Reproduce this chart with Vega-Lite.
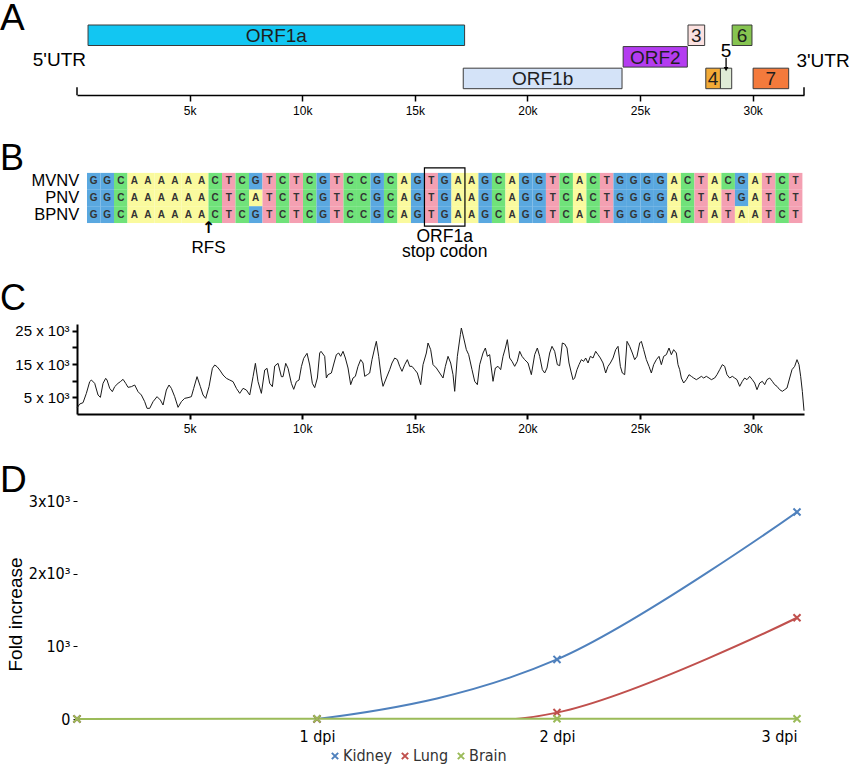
{
  "$schema": "https://vega.github.io/schema/vega-lite/v6.json",
  "background": "white",
  "padding": 0,
  "bounds": "flush",
  "spacing": 0,
  "config": {
    "view": {"stroke": null},
    "font": "Liberation Sans",
    "axis": {"domainColor": "black", "tickColor": "black", "labelColor": "black", "titleColor": "black", "grid": false}
  },
  "resolve": {"scale": {"color": "independent"}, "legend": {"color": "independent"}},
  "vconcat": [
    {
      "width": 727,
      "height": 70,
      "title": {"text": "A", "anchor": "start", "frame": "group", "fontSize": 37, "fontWeight": "normal", "color": "black", "offset": 0, "dx": -77, "dy": 42.8, "baseline": "alphabetic"},
      "layer": [
        {
          "data": {"values": [
            {"name": "ORF1a", "start": 490, "end": 17210, "track": 1},
            {"name": "ORF1b", "start": 17150, "end": 24200, "track": 3},
            {"name": "ORF2", "start": 24250, "end": 27100, "track": 2},
            {"name": "3", "start": 27130, "end": 27870, "track": 1},
            {"name": "4", "start": 27920, "end": 28570, "track": 3},
            {"name": "5", "start": 28570, "end": 29070, "track": 3},
            {"name": "6", "start": 29090, "end": 29970, "track": 1},
            {"name": "7", "start": 30020, "end": 31600, "track": 3}
          ]},
          "mark": {"type": "rect", "stroke": "#3a3a3a", "strokeWidth": 1},
          "encoding": {
            "x": {"field": "start", "type": "quantitative", "scale": {"domain": [0, 32280], "nice": false, "zero": false},
              "axis": {"values": [5000, 10000, 15000, 20000, 25000, 30000], "labelExpr": "(datum.value/1000)+'k'", "tickSize": 6, "tickWidth": 1.5, "domainWidth": 1.5, "labelFontSize": 12, "labelPadding": 4, "title": null}},
            "x2": {"field": "end"},
            "y": {"field": "track", "type": "ordinal", "scale": {"domain": [1, 2, 3], "paddingInner": 0.05, "paddingOuter": 0.146, "align": 0}, "axis": null},
            "color": {"field": "name", "type": "nominal", "legend": null,
              "scale": {"domain": ["ORF1a", "ORF1b", "ORF2", "3", "4", "5", "6", "7"],
                        "range": ["#12c6f2", "#d4e3f8", "#b43cf0", "#fbe1e0", "#f2aa36", "#dfebd6", "#86c450", "#f47a3c"]}}
          }
        },
        {
          "data": {"values": [
            {"label": "ORF1a", "pos": 8850, "track": 1},
            {"label": "ORF1b", "pos": 20675, "track": 3},
            {"label": "ORF2", "pos": 25675, "track": 2},
            {"label": "3", "pos": 27500, "track": 1},
            {"label": "4", "pos": 28245, "track": 3},
            {"label": "6", "pos": 29530, "track": 1},
            {"label": "7", "pos": 30810, "track": 3}
          ]},
          "mark": {"type": "text", "fontSize": 19, "color": "#1e1e1e", "baseline": "middle", "dy": 1},
          "encoding": {
            "x": {"field": "pos", "type": "quantitative"},
            "y": {"field": "track", "type": "ordinal"},
            "text": {"field": "label"}
          }
        },
        {
          "data": {"values": [{"label": "5'UTR", "pos": 0, "track": 2}]},
          "mark": {"type": "text", "fontSize": 19, "color": "black", "align": "right", "baseline": "middle", "dx": 9, "dy": 3},
          "encoding": {"x": {"field": "pos", "type": "quantitative"}, "y": {"field": "track", "type": "ordinal"}, "text": {"field": "label"}}
        },
        {
          "data": {"values": [{"label": "3'UTR", "pos": 32280, "track": 2}]},
          "mark": {"type": "text", "fontSize": 19, "color": "black", "align": "left", "baseline": "middle", "dx": -7.6, "dy": 4},
          "encoding": {"x": {"field": "pos", "type": "quantitative"}, "y": {"field": "track", "type": "ordinal"}, "text": {"field": "label"}}
        },
        {
          "data": {"values": [{"label": "5", "pos": 28820, "track": 2}]},
          "mark": {"type": "text", "fontSize": 19, "color": "black", "baseline": "middle", "dy": -6},
          "encoding": {"x": {"field": "pos", "type": "quantitative"}, "y": {"field": "track", "type": "ordinal"}, "text": {"field": "label"}}
        },
        {
          "data": {"values": [{"pos": 28820, "track": 2}]},
          "mark": {"type": "rule", "color": "black", "strokeWidth": 1.3, "y2Offset": 1.5},
          "encoding": {
            "x": {"field": "pos", "type": "quantitative"},
            "y": {"field": "track", "type": "ordinal", "bandPosition": 0.55},
            "y2": {"field": "track", "bandPosition": 1}
          }
        },
        {
          "data": {"values": [{"pos": 28820, "track": 2}]},
          "mark": {"type": "point", "shape": "triangle-down", "filled": true, "color": "black", "size": 22, "opacity": 1, "yOffset": 2},
          "encoding": {
            "x": {"field": "pos", "type": "quantitative"},
            "y": {"field": "track", "type": "ordinal", "bandPosition": 1}
          }
        },
        {
          "data": {"values": [{"pos": 0, "track": 3}, {"pos": 32280, "track": 3}]},
          "mark": {"type": "rule", "color": "black", "strokeWidth": 1.5, "yOffset": -1.5, "y2Offset": 6.6},
          "encoding": {
            "x": {"field": "pos", "type": "quantitative"},
            "y": {"field": "track", "type": "ordinal", "bandPosition": 1},
            "y2": {"field": "track", "bandPosition": 1}
          }
        }
      ]
    },
    {
      "width": 727,
      "height": 229,
      "title": {"text": "B", "anchor": "start", "frame": "group", "fontSize": 36, "fontWeight": "normal", "color": "black", "offset": 0, "dx": -77, "dy": 110.5, "baseline": "alphabetic"},
      "layer": [
        {
          "data": {"values": [
            {"seq": "MVNV", "row": 1, "col": [1,2,3,4,5,6,7,8,9,10,11,12,13,14,15,16,17,18,19,20,21,22,23,24,25,26,27,28,29,30,31,32,33,34,35,36,37,38,39,40,41,42,43,44,45,46,47,48,49,50,51,52,53],
             "base": ["G","G","C","A","A","A","A","A","A","C","T","C","G","T","C","T","C","G","T","C","C","G","C","A","G","T","G","A","A","G","C","A","G","G","T","C","A","C","T","G","G","G","G","A","C","T","A","C","G","A","T","C","T"]},
            {"seq": "PNV", "row": 2, "col": [1,2,3,4,5,6,7,8,9,10,11,12,13,14,15,16,17,18,19,20,21,22,23,24,25,26,27,28,29,30,31,32,33,34,35,36,37,38,39,40,41,42,43,44,45,46,47,48,49,50,51,52,53],
             "base": ["G","G","C","A","A","A","A","A","A","C","T","C","A","T","C","T","C","G","T","C","C","G","C","A","G","T","G","A","A","G","C","A","G","G","T","C","A","C","T","G","G","G","G","A","C","T","A","T","G","A","T","C","T"]},
            {"seq": "BPNV", "row": 3, "col": [1,2,3,4,5,6,7,8,9,10,11,12,13,14,15,16,17,18,19,20,21,22,23,24,25,26,27,28,29,30,31,32,33,34,35,36,37,38,39,40,41,42,43,44,45,46,47,48,49,50,51,52,53],
             "base": ["G","G","C","A","A","A","A","A","A","C","T","C","G","T","C","T","C","G","T","C","C","G","C","A","G","T","G","A","A","G","C","A","G","G","T","C","A","C","T","G","G","G","G","A","C","T","A","T","A","A","T","C","T"]}
          ]},
          "transform": [{"flatten": ["col", "base"]}],
          "layer": [
            {
              "mark": {"type": "rect", "height": 16.8},
              "encoding": {
                "x": {"field": "col", "type": "ordinal", "scale": {"paddingInner": 0, "paddingOuter": 0.4297, "align": 0.862}, "axis": null},
                "y": {"field": "row", "type": "quantitative", "scale": {"domain": [-4.178, 9.562], "reverse": true, "nice": false, "zero": false}, "axis": null},
                "color": {"field": "base", "type": "nominal", "legend": null,
                  "scale": {"domain": ["A", "C", "G", "T"], "range": ["#fafa9e", "#70e27a", "#5aa8e0", "#f4a0b2"]}}
              }
            },
            {
              "mark": {"type": "text", "fontSize": 10, "fontWeight": "bold", "color": "#333333", "baseline": "middle"},
              "encoding": {
                "x": {"field": "col", "type": "ordinal"},
                "y": {"field": "row", "type": "quantitative"},
                "text": {"field": "base"}
              }
            }
          ]
        },
        {
          "data": {"values": [{"seq": "MVNV", "row": 1}, {"seq": "PNV", "row": 2}, {"seq": "BPNV", "row": 3}]},
          "mark": {"type": "text", "fontSize": 16.5, "color": "black", "align": "right", "baseline": "middle", "dx": -14.5},
          "encoding": {
            "x": {"datum": 1, "type": "ordinal"},
            "y": {"field": "row", "type": "quantitative"},
            "text": {"field": "seq"}
          }
        },
        {
          "data": {"values": [{"row": 2}]},
          "mark": {"type": "rect", "fill": null, "fillOpacity": 0, "stroke": "black", "strokeWidth": 1.2, "width": {"band": 3}, "height": 58.3, "yOffset": -1},
          "encoding": {
            "x": {"datum": 27, "type": "ordinal"},
            "y": {"field": "row", "type": "quantitative"}
          }
        },
        {
          "data": {"values": [{"label": "↑", "col": 10, "row": 3}]},
          "mark": {"type": "text", "font": "DejaVu Sans", "fontWeight": "bold", "fontSize": 16, "color": "black", "baseline": "middle", "dx": -6.75, "dy": 13.5},
          "encoding": {"x": {"field": "col", "type": "ordinal"}, "y": {"field": "row", "type": "quantitative"}, "text": {"field": "label"}}
        },
        {
          "data": {"values": [{"label": "RFS", "col": 10, "row": 3}]},
          "mark": {"type": "text", "fontSize": 17, "color": "black", "baseline": "middle", "dx": -6.75, "dy": 33},
          "encoding": {"x": {"field": "col", "type": "ordinal"}, "y": {"field": "row", "type": "quantitative"}, "text": {"field": "label"}}
        },
        {
          "data": {"values": [{"label": "ORF1a", "col": 27, "row": 3}]},
          "mark": {"type": "text", "fontSize": 17.5, "color": "black", "baseline": "middle", "dy": 22.5},
          "encoding": {"x": {"field": "col", "type": "ordinal"}, "y": {"field": "row", "type": "quantitative"}, "text": {"field": "label"}}
        },
        {
          "data": {"values": [{"label": "stop codon", "col": 27, "row": 3}]},
          "mark": {"type": "text", "fontSize": 17.5, "color": "black", "baseline": "middle", "dy": 37.5},
          "encoding": {"x": {"field": "col", "type": "ordinal"}, "y": {"field": "row", "type": "quantitative"}, "text": {"field": "label"}}
        }
      ]
    },
    {
      "width": 727,
      "height": 90,
      "title": {"text": "C", "anchor": "start", "frame": "group", "fontSize": 36, "fontWeight": "normal", "color": "black", "offset": 0, "dx": -77, "dy": 22.5, "baseline": "alphabetic"},
      "data": {"values": [
        {"p":0,"c":1800},{"p":120,"c":3000},{"p":268,"c":3400},{"p":416,"c":6200},{"p":564,"c":9700},{"p":638,"c":10200},{"p":786,"c":9200},{"p":934,"c":5700},{"p":1038,"c":5000},{"p":1156,"c":9200},
        {"p":1274,"c":10700},{"p":1333,"c":10200},{"p":1452,"c":7700},{"p":1570,"c":6700},{"p":1674,"c":8200},{"p":1822,"c":9200},{"p":1925,"c":9700},{"p":2044,"c":10400},{"p":2162,"c":9200},{"p":2266,"c":8000},
        {"p":2414,"c":8200},{"p":2562,"c":8700},{"p":2710,"c":6700},{"p":2858,"c":5700},{"p":3006,"c":3700},{"p":3110,"c":1700},{"p":3229,"c":1700},{"p":3377,"c":3700},{"p":3554,"c":5200},{"p":3702,"c":4200},
        {"p":3820,"c":2700},{"p":3968,"c":7200},{"p":4087,"c":8700},{"p":4190,"c":7700},{"p":4338,"c":5200},{"p":4486,"c":2000},{"p":4634,"c":3700},{"p":4782,"c":4700},{"p":4930,"c":4900},{"p":5078,"c":5200},
        {"p":5182,"c":7700},{"p":5330,"c":11200},{"p":5478,"c":8200},{"p":5597,"c":5700},{"p":5715,"c":4700},{"p":5863,"c":8200},{"p":6011,"c":13700},{"p":6115,"c":14700},{"p":6218,"c":14200},{"p":6337,"c":13200},
        {"p":6485,"c":11700},{"p":6633,"c":10700},{"p":6781,"c":10200},{"p":6929,"c":9700},{"p":7077,"c":7700},{"p":7225,"c":6200},{"p":7373,"c":7700},{"p":7521,"c":7200},{"p":7669,"c":5700},{"p":7817,"c":11200},
        {"p":7921,"c":15200},{"p":8039,"c":9700},{"p":8187,"c":6200},{"p":8335,"c":13200},{"p":8439,"c":13700},{"p":8556,"c":9200},{"p":8675,"c":8200},{"p":8779,"c":14400},{"p":8927,"c":15200},{"p":9075,"c":11200},
        {"p":9149,"c":11200},{"p":9267,"c":15200},{"p":9371,"c":13700},{"p":9519,"c":9200},{"p":9622,"c":7400},{"p":9741,"c":9700},{"p":9859,"c":10200},{"p":9963,"c":14200},{"p":10066,"c":16700},{"p":10214,"c":18200},
        {"p":10333,"c":14700},{"p":10451,"c":9200},{"p":10555,"c":7900},{"p":10673,"c":10800},{"p":10776,"c":18300},{"p":10835,"c":18800},{"p":10998,"c":17300},{"p":11072,"c":10800},{"p":11146,"c":11800},{"p":11294,"c":12300},
        {"p":11412,"c":15300},{"p":11516,"c":17800},{"p":11619,"c":18300},{"p":11708,"c":17300},{"p":11812,"c":18800},{"p":11916,"c":16800},{"p":12034,"c":13800},{"p":12152,"c":8800},{"p":12256,"c":10800},{"p":12360,"c":11300},
        {"p":12478,"c":14300},{"p":12596,"c":16300},{"p":12700,"c":15300},{"p":12774,"c":11300},{"p":12892,"c":11800},{"p":12996,"c":12300},{"p":13099,"c":16300},{"p":13218,"c":19800},{"p":13292,"c":21800},{"p":13395,"c":17300},
        {"p":13514,"c":10800},{"p":13588,"c":8300},{"p":13736,"c":10800},{"p":13884,"c":13300},{"p":13987,"c":15300},{"p":14106,"c":16800},{"p":14224,"c":16300},{"p":14328,"c":14300},{"p":14431,"c":12800},{"p":14550,"c":14800},
        {"p":14668,"c":16300},{"p":14772,"c":14300},{"p":14875,"c":14300},{"p":14994,"c":13300},{"p":15112,"c":12300},{"p":15260,"c":8800},{"p":15364,"c":14800},{"p":15512,"c":18300},{"p":15586,"c":21300},{"p":15704,"c":19300},
        {"p":15808,"c":14800},{"p":15956,"c":13800},{"p":16104,"c":12300},{"p":16252,"c":10800},{"p":16356,"c":14300},{"p":16474,"c":17300},{"p":16592,"c":15300},{"p":16696,"c":11800},{"p":16770,"c":6800},{"p":16888,"c":17300},
        {"p":17022,"c":23800},{"p":17066,"c":25800},{"p":17170,"c":22800},{"p":17288,"c":19300},{"p":17391,"c":17800},{"p":17539,"c":13300},{"p":17658,"c":9800},{"p":17776,"c":8800},{"p":17880,"c":14800},{"p":18028,"c":18300},
        {"p":18132,"c":19800},{"p":18220,"c":17300},{"p":18324,"c":17800},{"p":18472,"c":9800},{"p":18576,"c":13800},{"p":18694,"c":14300},{"p":18812,"c":13300},{"p":18916,"c":17300},{"p":19020,"c":19800},{"p":19108,"c":22300},
        {"p":19212,"c":16800},{"p":19315,"c":15800},{"p":19434,"c":14300},{"p":19552,"c":15800},{"p":19656,"c":18800},{"p":19759,"c":17300},{"p":19878,"c":16300},{"p":20026,"c":15300},{"p":20174,"c":11800},{"p":20322,"c":17800},
        {"p":20440,"c":19800},{"p":20544,"c":17300},{"p":20662,"c":13300},{"p":20766,"c":12300},{"p":20869,"c":13800},{"p":20988,"c":18300},{"p":21091,"c":20300},{"p":21210,"c":18800},{"p":21328,"c":14800},{"p":21432,"c":14500},
        {"p":21550,"c":21300},{"p":21654,"c":21000},{"p":21757,"c":19800},{"p":21846,"c":15300},{"p":21950,"c":12300},{"p":22024,"c":10300},{"p":22098,"c":10800},{"p":22201,"c":13300},{"p":22290,"c":14800},{"p":22394,"c":16300},
        {"p":22497,"c":15800},{"p":22586,"c":16800},{"p":22690,"c":15300},{"p":22794,"c":17300},{"p":22912,"c":16800},{"p":23030,"c":18800},{"p":23134,"c":17800},{"p":23238,"c":16800},{"p":23356,"c":15300},{"p":23474,"c":12300},
        {"p":23578,"c":14300},{"p":23682,"c":15300},{"p":23800,"c":16800},{"p":23918,"c":19300},{"p":24022,"c":20300},{"p":24126,"c":14300},{"p":24214,"c":12300},{"p":24318,"c":11800},{"p":24421,"c":21800},{"p":24540,"c":20300},
        {"p":24658,"c":18300},{"p":24762,"c":16300},{"p":24865,"c":17300},{"p":24984,"c":21300},{"p":25058,"c":21800},{"p":25161,"c":19300},{"p":25280,"c":16300},{"p":25398,"c":14300},{"p":25502,"c":12300},{"p":25605,"c":14800},
        {"p":25724,"c":16300},{"p":25842,"c":17300},{"p":25946,"c":14800},{"p":26049,"c":17300},{"p":26168,"c":17800},{"p":26286,"c":19800},{"p":26390,"c":17800},{"p":26493,"c":19300},{"p":26612,"c":18300},{"p":26686,"c":14800},
        {"p":26760,"c":13300},{"p":26834,"c":10800},{"p":26937,"c":9300},{"p":27056,"c":10300},{"p":27174,"c":11800},{"p":27278,"c":11300},{"p":27381,"c":10800},{"p":27500,"c":10300},{"p":27618,"c":10800},{"p":27722,"c":11300},
        {"p":27825,"c":10800},{"p":27944,"c":11300},{"p":28062,"c":10800},{"p":28166,"c":10300},{"p":28314,"c":10800},{"p":28417,"c":11800},{"p":28536,"c":13300},{"p":28654,"c":14800},{"p":28758,"c":14300},{"p":28861,"c":11800},
        {"p":28980,"c":10800},{"p":29098,"c":11300},{"p":29202,"c":10800},{"p":29305,"c":10300},{"p":29424,"c":8300},{"p":29542,"c":9800},{"p":29646,"c":10800},{"p":29749,"c":10300},{"p":29868,"c":11300},{"p":29986,"c":10300},
        {"p":30090,"c":9300},{"p":30193,"c":7300},{"p":30312,"c":9300},{"p":30430,"c":9800},{"p":30534,"c":8800},{"p":30637,"c":10300},{"p":30756,"c":10800},{"p":30874,"c":9800},{"p":30978,"c":8800},{"p":31081,"c":8300},
        {"p":31200,"c":7300},{"p":31318,"c":6800},{"p":31422,"c":7300},{"p":31525,"c":7800},{"p":31644,"c":10800},{"p":31747,"c":13300},{"p":31866,"c":14300},{"p":31969,"c":16300},{"p":32058,"c":14800},{"p":32132,"c":11300},
        {"p":32206,"c":6800},{"p":32280,"c":1000}
      ]},
      "mark": {"type": "line", "color": "#1a1a1a", "strokeWidth": 1},
      "encoding": {
        "x": {"field": "p", "type": "quantitative", "scale": {"domain": [0, 32280], "nice": false, "zero": false},
          "axis": {"values": [5000, 10000, 15000, 20000, 25000, 30000], "labelExpr": "(datum.value/1000)+'k'", "tickSize": 5, "tickWidth": 2, "domainWidth": 2, "labelFontSize": 12, "labelPadding": 4, "title": null}},
        "y": {"field": "c", "type": "quantitative", "scale": {"domain": [0, 27000], "nice": false},
          "axis": {"values": [5000, 10000, 15000, 20000, 25000], "labelExpr": "datum.value==10000||datum.value==20000?'':(datum.value/1000)+' x 10³'", "tickSize": 5, "tickWidth": 2, "domainWidth": 2, "labelFontSize": 15, "labelPadding": 3, "title": null}}
      }
    },
    {
      "width": 720,
      "height": 305,
      "title": {"text": "D", "anchor": "start", "frame": "group", "fontSize": 37, "fontWeight": "normal", "color": "black", "offset": 0, "dx": -77, "dy": 115, "baseline": "alphabetic"},
      "data": {"values": [
        {"day": 0, "tissue": "Kidney", "fold": 1}, {"day": 1, "tissue": "Kidney", "fold": 1}, {"day": 2, "tissue": "Kidney", "fold": 820}, {"day": 3, "tissue": "Kidney", "fold": 2850},
        {"day": 0, "tissue": "Lung", "fold": 1}, {"day": 1, "tissue": "Lung", "fold": 1}, {"day": 2, "tissue": "Lung", "fold": 88}, {"day": 3, "tissue": "Lung", "fold": 1394},
        {"day": 0, "tissue": "Brain", "fold": 1}, {"day": 1, "tissue": "Brain", "fold": 2}, {"day": 2, "tissue": "Brain", "fold": 3}, {"day": 3, "tissue": "Brain", "fold": 4}
      ]},
      "encoding": {
        "x": {"field": "day", "type": "quantitative", "scale": {"domain": [0, 3], "nice": false, "zero": false},
          "axis": {"values": [1, 2, 3], "labelExpr": "datum.value+' dpi'", "domain": false, "ticks": false, "labelFontSize": 16, "labelFont": "Liberation Sans Narrow, DejaVu Sans Condensed, Liberation Sans", "labelPadding": 9, "title": null}},
        "y": {"field": "fold", "type": "quantitative", "scale": {"domain": [0, 4200], "nice": false},
          "axis": {"values": [0, 1000, 2000, 3000], "labelExpr": "datum.value==0?'0':datum.value==1000?'10³':(datum.value/1000)+'x10³'", "domain": false, "tickSize": 4, "labelFontSize": 16, "labelFont": "Liberation Sans Narrow, DejaVu Sans Condensed, Liberation Sans", "labelPadding": 3,
            "title": "Fold increase", "titleFontSize": 19, "titleFontWeight": "normal", "titleX": -52, "titleY": 200}},
        "color": {"field": "tissue", "type": "nominal",
          "scale": {"domain": ["Kidney", "Lung", "Brain"], "range": ["#4f81bd", "#c0504d", "#9bbb59"]},
          "legend": {"orient": "none", "legendX": 250, "legendY": 334, "direction": "horizontal", "title": null, "labelFontSize": 16, "labelFont": "Liberation Sans Narrow, DejaVu Sans Condensed, Liberation Sans", "labelColor": "#333333", "symbolType": "M-1,-1L1,1M-1,1L1,-1", "symbolStrokeWidth": 2, "symbolSize": 40, "columnPadding": 4, "labelOffset": 0}}
      },
      "layer": [
        {"transform": [{"filter": "datum.tissue != 'Brain'"}], "mark": {"type": "line", "interpolate": "cardinal", "tension": 0, "strokeWidth": 2, "clip": true}},
        {"transform": [{"filter": "datum.tissue == 'Brain'"}], "mark": {"type": "line", "strokeWidth": 2}},
        {"mark": {"type": "point", "shape": "M-1,-1L1,1M-1,1L1,-1", "filled": false, "strokeWidth": 2, "size": 50, "opacity": 1}},
        {
          "data": {"values": [{"a": 0, "b": 3000}]},
          "mark": {"type": "rule", "color": "black", "strokeWidth": 1.5},
          "encoding": {"x": {"datum": 0}, "y": {"field": "a", "type": "quantitative"}, "y2": {"field": "b"}, "color": {"value": "black"}}
        }
      ]
    }
  ]
}
